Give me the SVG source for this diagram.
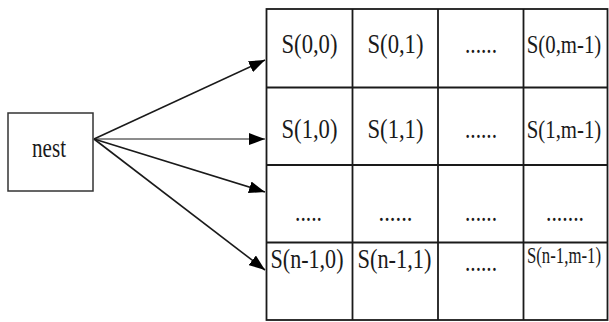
<svg xmlns="http://www.w3.org/2000/svg" width="609" height="322" viewBox="0 0 609 322">
  <style>
    .box { fill: #ffffff; stroke: #333333; stroke-width: 1.5; }
    .grid { fill: none; stroke: #1a1a1a; stroke-width: 1.8; }
    .lbl { font-family: 'Liberation Serif', 'Times New Roman', Times, serif; font-size: 28px; fill: #1a1a1a; text-anchor: middle; }
    .edgecol { font-size: 26px; }
    .small { font-size: 23px; }
    .edge { stroke: #1a1a1a; stroke-width: 1.6; fill: none; marker-end: url(#head); }
    .thin { stroke-width: 1; }
  </style>
  <defs>
    <marker id="head" viewBox="0 0 16 12" refX="16" refY="6" markerWidth="16" markerHeight="12" markerUnits="userSpaceOnUse" orient="auto">
      <path d="M0,0 L16,6 L0,12 Z" fill="#000000"/>
    </marker>
  </defs>
  <rect width="609" height="322" fill="#ffffff"/>

  <!-- source node -->
  <g id="nest">
    <rect class="box" x="8" y="113" width="85" height="78"/>
    <text class="lbl" x="49" y="157" textLength="34" lengthAdjust="spacingAndGlyphs">nest</text>
  </g>

  <!-- matrix of cells S(i,j) -->
  <g id="matrix">
    <rect class="grid" x="266.5" y="9" width="341" height="311"/>
    <line class="grid" x1="352.5" y1="9" x2="352.5" y2="320"/>
    <line class="grid" x1="438" y1="9" x2="438" y2="320"/>
    <line class="grid" x1="523.5" y1="9" x2="523.5" y2="320"/>
    <line class="grid" x1="266.5" y1="87.5" x2="607.5" y2="87.5"/>
    <line class="grid" x1="266.5" y1="165" x2="607.5" y2="165"/>
    <line class="grid" x1="266.5" y1="242.5" x2="607.5" y2="242.5"/>

    <text class="lbl" x="309.5" y="53" textLength="56" lengthAdjust="spacingAndGlyphs">S(0,0)</text>
    <text class="lbl" x="395.5" y="53" textLength="56" lengthAdjust="spacingAndGlyphs">S(0,1)</text>
    <text class="lbl" x="481" y="53" textLength="32" lengthAdjust="spacingAndGlyphs">......</text>
    <text class="lbl edgecol" transform="translate(564,53) scale(0.8,1)">S(0,m-1)</text>

    <text class="lbl" x="309.5" y="138" textLength="56" lengthAdjust="spacingAndGlyphs">S(1,0)</text>
    <text class="lbl" x="395.5" y="138" textLength="56" lengthAdjust="spacingAndGlyphs">S(1,1)</text>
    <text class="lbl" x="481" y="138" textLength="32" lengthAdjust="spacingAndGlyphs">......</text>
    <text class="lbl edgecol" transform="translate(564,138) scale(0.8,1)">S(1,m-1)</text>

    <text class="lbl" x="308.5" y="221" textLength="27" lengthAdjust="spacingAndGlyphs">.....</text>
    <text class="lbl" x="395.5" y="221" textLength="34" lengthAdjust="spacingAndGlyphs">......</text>
    <text class="lbl" x="481" y="221" textLength="32" lengthAdjust="spacingAndGlyphs">......</text>
    <text class="lbl" x="565" y="221" textLength="38" lengthAdjust="spacingAndGlyphs">.......</text>

    <text class="lbl" x="307" y="268" textLength="73" lengthAdjust="spacingAndGlyphs">S(n-1,0)</text>
    <text class="lbl" x="394.5" y="268" textLength="74" lengthAdjust="spacingAndGlyphs">S(n-1,1)</text>
    <text class="lbl" x="481" y="271" textLength="32" lengthAdjust="spacingAndGlyphs">......</text>
    <text class="lbl small" transform="translate(564,263) scale(0.73,1)">S(n-1,m-1)</text>
  </g>

  <!-- connectors from nest to matrix rows -->
  <g id="connectors">
    <line class="edge" x1="94" y1="139" x2="265" y2="60"/>
    <line class="edge thin" x1="94" y1="139" x2="265" y2="139"/>
    <line class="edge" x1="94" y1="139" x2="265" y2="192"/>
    <line class="edge" x1="94" y1="139" x2="265" y2="270"/>
  </g>
</svg>
